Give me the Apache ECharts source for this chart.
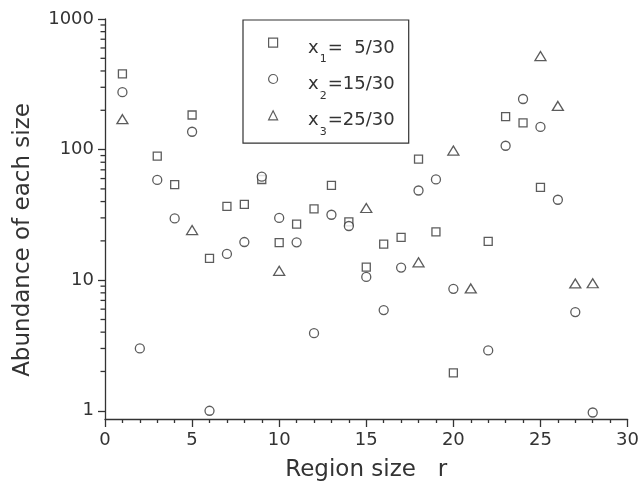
<!DOCTYPE html>
<html><head><meta charset="utf-8">
<script src="https://cdn.jsdelivr.net/npm/echarts@6/dist/echarts.min.js"></script>
<style>html,body{margin:0;padding:0;background:#fff}#c{width:642px;height:495px}</style>
</head><body><div id="c"></div>
<script>
// ---- data ----
const xTickValues = [0, 5, 10, 15, 20, 25, 30];
const yTickLabels = [1, 10, 100, 1000];
const yMinorTicks = [2,3,4,5,6,7,8,9,20,30,40,50,60,70,80,90,200,300,400,500,600,700,800,900];

const squareR = [1,3,4,5,6,7,8,9,10,11,12,13,14,15,16,17,18,19,20,22,23,24,25];
const squareV = [380,89,54,184,14.7,36.8,38,59,19.4,26.9,35.2,53.3,28,12.6,18.9,21.3,84.4,23.4,1.95,19.8,179,160,51.4];

const circleR = [1,2,3,4,5,6,7,8,9,10,11,12,13,14,15,16,17,18,19,20,22,23,24,25,26,27,28];
const circleV = [275,3.0,58.6,29.7,137,1.0,15.9,19.6,62,30,19.5,3.93,31.7,26,10.6,5.9,12.5,48.6,59.1,8.58,2.9,107,244,149,41.3,5.7,0.97];

const triangleR = [1,5,10,15,18,20,21,25,26,27,28];
const triangleV = [171,24.2,11.8,35.7,13.7,98.3,8.65,520,216,9.44,9.47];

const seriesNames = ['x1', 'x2', 'x3'];
const legendLabels = {
  x1: '{x|x}{s|1}{m|=  5/30}',
  x2: '{x|x}{s|2}{m|=15/30}',
  x3: '{x|x}{s|3}{m|=25/30}'
};

const zip = (a, b) => a.map((v, i) => [v, b[i]]);
const ink = '#333';
const FONT = 'DejaVu Sans';
const markStyle = { color: '#fff', borderColor: ink, borderWidth: 1.3 };

const chart = echarts.init(document.getElementById('c'), null, { renderer: 'canvas' });
chart.setOption({
  animation: false,
  backgroundColor: '#fff',
  grid: { left: 105, right: 11, top: 19, bottom: 76 },
  xAxis: {
    type: 'value', min: 0, max: 30, interval: 5,
    name: 'Region size   r', nameLocation: 'middle', nameGap: 40,
    nameTextStyle: { fontSize: 23, fontFamily: FONT, color: ink },
    axisLine: { lineStyle: { color: ink, width: 1.3 } },
    axisTick: { length: 8, lineStyle: { color: ink, width: 1.3 } },
    minorTick: { show: true, splitNumber: 5, length: 4, lineStyle: { color: ink, width: 1.3 } },
    axisLabel: { fontSize: 18, fontFamily: FONT, color: ink, margin: 12 },
    splitLine: { show: false }
  },
  yAxis: {
    type: 'log', logBase: 10, min: 0.865, max: 1000,
    name: 'Abundance of each size', nameLocation: 'middle', nameGap: 70,
    nameTextStyle: { fontSize: 23, fontFamily: FONT, color: ink, padding: [0, 42, 0, 0] },
    axisLine: { lineStyle: { color: ink, width: 1.3 } },
    axisTick: { length: 7, lineStyle: { color: ink, width: 1.3 } },
    axisLabel: { fontSize: 18, fontFamily: FONT, color: ink, margin: 11, showMinLabel: false,
      formatter: v => (yTickLabels.indexOf(Math.round(v)) >= 0 ? String(Math.round(v)) : '') },
    splitLine: { show: false }
  },
  legend: {
    orient: 'vertical', left: 243, top: 20,
    padding: [12.7, 14, 5.5, 25],
    itemWidth: 9, itemHeight: 9, itemGap: 4,
    borderColor: ink, borderWidth: 1.2,
    data: seriesNames,
    itemStyle: { color: '#fff', borderColor: ink, borderWidth: 1.2 },
    formatter: name => legendLabels[name],
    textStyle: {
      color: ink, fontFamily: FONT,
      rich: {
        x: { fontSize: 18, fontFamily: FONT, color: ink, lineHeight: 20, padding: [6.2, 0, 0, 25.5], verticalAlign: 'top' },
        s: { fontSize: 11, fontFamily: FONT, color: ink, lineHeight: 10, padding: [21.3, 1, 0, 1], verticalAlign: 'top' },
        m: { fontSize: 18, fontFamily: FONT, color: ink, lineHeight: 20, padding: [6.2, 0, 0, 0], verticalAlign: 'top' }
      }
    }
  },
  series: [
    { type: 'scatter', name: 'x1', symbol: 'rect', symbolSize: 8, data: zip(squareR, squareV), itemStyle: markStyle, emphasis: { disabled: true } },
    { type: 'scatter', name: 'x2', symbol: 'circle', symbolSize: 9, data: zip(circleR, circleV), itemStyle: markStyle, emphasis: { disabled: true } },
    { type: 'scatter', name: 'x3', symbol: 'triangle', symbolSize: [11, 9], data: zip(triangleR, triangleV), itemStyle: markStyle, emphasis: { disabled: true } },
    {
      // minor (2..9 × decade) ticks of the log y axis, placed through the axis scale
      type: 'custom', name: 'yMinorTicks', silent: true, clip: false, z: 10,
      data: yMinorTicks.map(v => [0, v]),
      renderItem: (params, api) => {
        const p = api.coord([api.value(0), api.value(1)]);
        return { type: 'rect', shape: { x: p[0] - 4.5, y: p[1] - 0.65, width: 4.5, height: 1.3 },
                 style: { fill: ink } };
      }
    }
  ]
});
</script>
</body></html>
